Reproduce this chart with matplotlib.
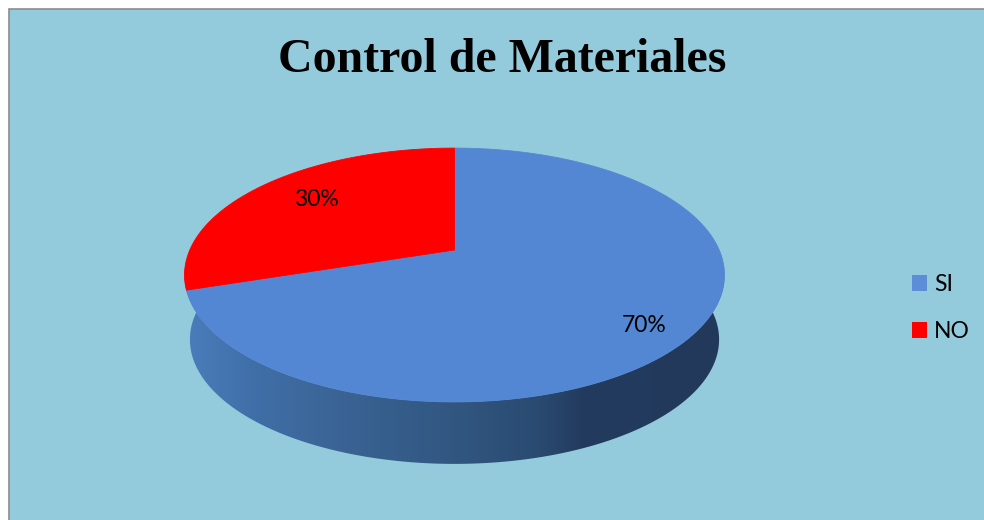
import numpy as np
import matplotlib

matplotlib.use("Agg")
import matplotlib.pyplot as plt
from matplotlib.colors import LinearSegmentedColormap
from matplotlib.patches import Patch, Polygon, Rectangle

categories = ["SI", "NO"]
values = [70, 30]
pct_labels = ["70%", "30%"]

slice_colors = ["#5487D3", "#FF0000"]
legend_colors = ["#5B8DD8", "#FF0000"]
label_pos = [(644, 326), (316, 200)]

# pie geometry in image pixels, k is the perspective of the tilted disc
CX, CY = 454.5, 250
A, B, K = 264.7, 122, 0.197
DEPTH, SHRINK = 65, 0.98


def rim(theta_deg, scale=1.0, dy=0.0):
    t = np.radians(theta_deg)
    d = 1 + K * np.sin(t)
    return CX + scale * A * np.cos(t) / d, CY + dy - scale * B * np.sin(t) / d


def main():
    fig = plt.figure(figsize=(9.84, 5.2), dpi=100, facecolor="white")
    ax = fig.add_axes([0, 0, 1, 1])

    ax.add_patch(Rectangle((8.5, 8.5), 990, 530, fc="#93CBDD", ec="#8C8C8C", lw=1.2))

    # side wall: gradient image clipped to the band between the two rims
    t_side = np.linspace(-192, 12, 300)
    xt, yt = rim(t_side)
    xb, yb = rim(t_side, SHRINK, DEPTH)
    side = Polygon(
        np.column_stack([np.r_[xt, xb[::-1]], np.r_[yt, yb[::-1]]]),
        fc="none",
        ec="none",
    )
    ax.add_patch(side)
    side_cmap = LinearSegmentedColormap.from_list(
        "side",
        [
            (0.0, "#4A7DBB"),
            (0.14, "#3F6EA6"),
            (0.30, "#3A6393"),
            (0.50, "#315781"),
            (0.66, "#2A4A70"),
            (0.74, "#233B5E"),
            (1.0, "#22395C"),
        ],
    )
    img = ax.imshow(
        np.linspace(0, 1, 540)[None, :],
        extent=(184, 724, 480, 270),
        cmap=side_cmap,
        aspect="auto",
        zorder=2,
    )
    img.set_clip_path(side)

    # top faces, clockwise from twelve o'clock
    shares = np.array(values) / np.sum(values) * 360
    start = 90.0
    for share, color in zip(shares, slice_colors):
        t = np.linspace(start, start - share, 200)
        x, y = rim(t)
        ax.fill(np.r_[CX, x], np.r_[CY, y], color=color, lw=0.6, zorder=3)
        start -= share

    for (x, y), lab in zip(label_pos, pct_labels):
        ax.text(x, y, lab, ha="center", va="center", fontsize=16.5,
                family="Lato", color="black", zorder=4)

    ax.text(502, 60, "Control de Materiales", ha="center", va="center",
            fontsize=34.5, fontweight="bold", family="Liberation Serif", color="black")

    handles = [Patch(fc=c, ec="none") for c in legend_colors]
    ax.legend(
        handles,
        categories,
        loc="center left",
        bbox_to_anchor=(912, 308),
        bbox_transform=ax.transData,
        frameon=False,
        prop={"family": "Lato", "size": 16.5},
        handlelength=0.66,
        handleheight=0.66,
        handletextpad=0.29,
        labelspacing=1.15,
        borderpad=0,
        borderaxespad=0,
    )

    ax.set_xlim(0, 984)
    ax.set_ylim(520, 0)
    ax.axis("off")
    fig.savefig("out.png", dpi=100, facecolor="white")


if __name__ == "__main__":
    main()
